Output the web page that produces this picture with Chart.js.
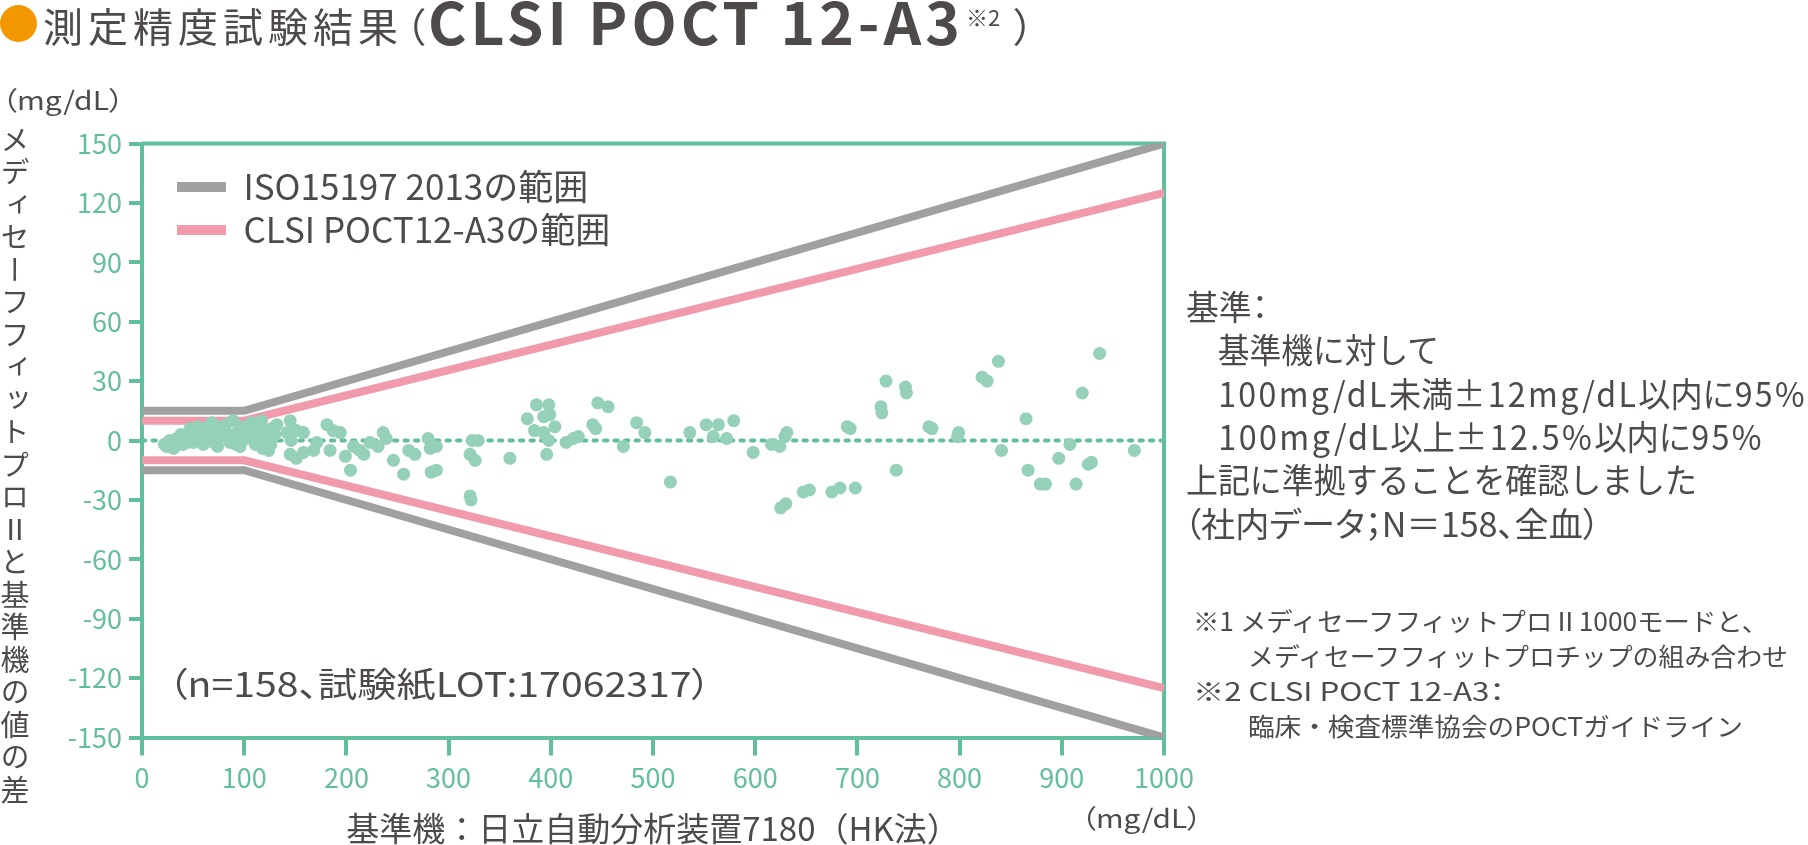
<!DOCTYPE html>
<html lang="ja">
<head>
<meta charset="utf-8">
<title>測定精度試験結果</title>
<script src="https://cdn.jsdelivr.net/npm/chart.js@4.4.1/dist/chart.umd.min.js"></script>
<style>
  html, body { margin: 0; padding: 0; background: #fff; }
  #page { position: relative; width: 1808px; height: 845px; overflow: hidden;
          font-family: "Noto Sans CJK JP", "Noto Sans", sans-serif; color: #4e4a4a; }
  #chart { position: absolute; left: 0; top: 0; }
  .t { position: absolute; top: 0; white-space: nowrap; line-height: 1; transform-origin: 0 0; }
  .palt { font-feature-settings: "palt"; }
  .lat { letter-spacing: 2.5px; }
  .dot { position: absolute; left: 0; top: 5px; width: 37px; height: 37px; border-radius: 50%; background: #f39700; }
  #ytitle { position: absolute; left: 0; top: 125px; writing-mode: vertical-rl; font-size: 29px;
            line-height: 29px; letter-spacing: 3.5px; white-space: nowrap; }
</style>
</head>
<body>
<div id="page">
  <canvas id="chart" width="1808" height="845"></canvas>

  <span class="dot"></span>
  <div class="t" style="left:43px;font-size:40px;letter-spacing:5px" data-b="42">測定精度試験結果</div>
  <div class="t palt" style="left:405px;font-size:40px" data-b="42">（</div>
  <div class="t" style="left:428px;font-size:58px;font-weight:bold;letter-spacing:4px" data-b="45" data-w="536">CLSI POCT 12-A3</div>
  <div class="t" style="left:966px;font-size:22px" data-b="26">※2</div>
  <div class="t palt" style="left:1014px;font-size:40px" data-b="42">）</div>

  <div class="t palt" style="left:2px;font-size:26px" data-b="110" data-w="122">（mg/dL）</div>
  <div id="ytitle">メディセーフフィットプロⅡと基準機の値の差</div>
  <div class="t palt" style="left:1081px;font-size:26px" data-b="828" data-w="121">（mg/dL）</div>
  <div class="t palt" style="left:168px;font-size:34px" data-b="697" data-w="543">（n=158、試験紙LOT:17062317）</div>

  <div class="t palt" style="left:1186px;font-size:34px" data-b="320" data-w="82">基準：</div>
  <div class="t" style="left:1186px;font-size:34px" data-b="363" data-w="253">　基準機に対して</div>
  <div class="t" style="left:1186px;font-size:34px" data-b="407" data-w="621">　<span class="lat">100mg/dL</span>未満<span class="lat">±12mg/dL</span>以内に<span class="lat">95%</span></div>
  <div class="t" style="left:1186px;font-size:34px" data-b="450" data-w="578">　<span class="lat">100mg/dL</span>以上<span class="lat">±12.5%</span>以内に<span class="lat">95%</span></div>
  <div class="t" style="left:1186px;font-size:34px" data-b="493" data-w="511">上記に準拠することを確認しました</div>
  <div class="t palt" style="left:1184px;font-size:34px" data-b="537" data-w="416">（社内データ；N＝158、全血）</div>

  <div class="t" style="left:1193px;font-size:25px" data-b="631" data-w="575">※1 メディセーフフィットプロⅡ1000モードと、</div>
  <div class="t" style="left:1248px;font-size:25px" data-b="666" data-w="540">メディセーフフィットプロチップの組み合わせ</div>
  <div class="t palt" style="left:1193px;font-size:25px" data-b="701" data-w="312">※2 CLSI POCT 12-A3：</div>
  <div class="t" style="left:1248px;font-size:25px" data-b="736" data-w="495">臨床・検査標準協会のPOCTガイドライン</div>
</div>

<script>
// reference analyser values (mg/dL)
const refValues = [
  22, 24, 27, 31, 34, 38, 40, 44, 45, 47, 50, 52, 54, 55, 58, 60, 61, 63, 66, 68,
  70, 72, 73, 74, 76, 80, 82, 85, 86, 89, 92, 93, 96, 98, 99, 102, 104, 107, 108, 110,
  111, 114, 116, 117, 118, 120, 122, 124, 126, 127, 130, 132,
  142, 145, 145, 146, 151, 151, 158, 158, 168, 171, 181, 184,
  187, 194, 199, 204, 207, 213, 217, 223, 231, 236, 239, 246, 256, 261, 267, 280, 282, 283, 288, 288,
  321, 322, 323, 321, 326, 329, 360, 377, 384, 386, 393, 393, 396, 398, 398, 399, 404, 415, 422, 427,
  441, 444, 446, 456,
  471, 484, 492, 517, 536, 552, 559, 564, 572, 579, 598, 616, 624, 625, 629, 630, 631, 647, 653, 675,
  683, 690, 693, 698, 723, 724, 728,
  738, 747, 748, 770, 773, 798, 799, 822, 827, 838, 841, 865, 867, 879, 884, 897, 908, 914, 920, 926,
  929, 937, 971
];
// meter minus reference (mg/dL)
const diffValues = [
  -2, -3, 0, -4, 1, 3, -2, -1, 2, 6, -1, 3, 5, 7, 1, -2, 6, 4, 2, 9,
  -1, 5, 7, -3, 2, 5, 8, 3, -1, 10, -2, 4, -3, 3, 7, 1, 6, 9, 2, 8,
  -2, 4, -1, 10, -4, 5, 3, -5, -2, 6, 3, 8,
  4, 10, -7, 0, 5, -9, 4, -6, -5, -1, 8, -5,
  5, 4, -8, -15, -3, -5, -7, -1, -3, 4, 1, -10, -17, -5, -7, 1, -4, -16, -3, -15,
  -28, -30, 0, -7, -10, 0, -9, 11, 5, 18, 12, 4, -7, 18, 0, 13, 7, -1, 1, 2,
  8, 6, 19, 17,
  -3, 9, 4, -21, 4, 8, 2, 8, 1, 10, -6, -2, -3, -34, 2, -32, 4, -26, -25, -26,
  -24, 7, 6, -24, 17, 14, 30,
  -15, 27, 24, 7, 6, 2, 4, 32, 30, 40, -5, 11, -15, -22, -22, -9, -2, -22, 24, -12,
  -11, 44, -5
];

// acceptance limits
const limitRef = [0, 100, 1000];
const isoUpper = [15, 15, 150];
const isoLower = [-15, -15, -150];
const clsiUpper = [10, 10, 125];
const clsiLower = [-10, -10, -125];
const zeroRef = [0, 1000];
const zeroDiff = [0, 0];

const xTickValues = [0, 100, 200, 300, 400, 500, 600, 700, 800, 900, 1000];
const yTickValues = [-150, -120, -90, -60, -30, 0, 30, 60, 90, 120, 150];

const GREEN = '#62bf9c';
const DOT = '#95d0b9';
const PINK = '#f19aac';
const GRAY = '#a0a0a0';
const INK = '#4e4a4a';

Chart.defaults.font.family = '"Noto Sans CJK JP", "Noto Sans", sans-serif';

const band = (upper, lower) => [
  ...limitRef.map((x, i) => ({ x, y: upper[i] })),
  { x: 1000, y: null },
  ...limitRef.map((x, i) => ({ x, y: lower[i] }))
];

// top and right edges of the plot frame
const frameLines = {
  id: 'frameLines',
  beforeDatasetsDraw(chart) {
    const { ctx, chartArea: { left, top, right, bottom } } = chart;
    ctx.save();
    ctx.strokeStyle = GREEN;
    ctx.lineWidth = 4;
    ctx.beginPath();
    ctx.moveTo(left, top);
    ctx.lineTo(right, top);
    ctx.lineTo(right, bottom);
    ctx.stroke();
    ctx.restore();
  }
};

// the in-plot legend sits a little inside the top-left corner
const legendPlace = {
  id: 'legendPlace',
  afterLayout(chart) {
    chart.legend.left = chart.chartArea.left + 27;
    chart.legend.top = chart.chartArea.top + 18;
  }
};

new Chart(document.getElementById('chart'), {
  type: 'scatter',
  data: {
    datasets: [
      {
        label: 'ISO15197 2013の範囲',
        data: band(isoUpper, isoLower),
        showLine: true,
        borderColor: GRAY,
        borderWidth: 8,
        pointRadius: 0,
        order: 3
      },
      {
        label: 'CLSI POCT12-A3の範囲',
        data: band(clsiUpper, clsiLower),
        showLine: true,
        borderColor: PINK,
        borderWidth: 8,
        pointRadius: 0,
        order: 2
      },
      {
        label: 'zero',
        data: zeroRef.map((x, i) => ({ x, y: zeroDiff[i] })),
        showLine: true,
        borderColor: GREEN,
        borderWidth: 4,
        borderDash: [3.3, 7.2],
        borderCapStyle: 'round',
        pointRadius: 0,
        order: 1
      },
      {
        label: 'n=158',
        data: refValues.map((x, i) => ({ x, y: diffValues[i] })),
        backgroundColor: DOT,
        borderWidth: 0,
        pointRadius: 6.5,
        order: 0
      }
    ]
  },
  options: {
    responsive: false,
    animation: false,
    devicePixelRatio: 1,
    events: [],
    layout: { padding: { left: 0, right: 644, top: 143.5, bottom: 0 } },
    scales: {
      x: {
        type: 'linear',
        min: 0,
        max: 1000,
        afterBuildTicks: (s) => { s.ticks = xTickValues.map(v => ({ value: v })); },
        afterFit: (s) => { s.height = 107.5; s.paddingLeft = 0; s.paddingRight = 0; },
        ticks: { color: GREEN, font: { size: 27 }, padding: 6, maxRotation: 0, autoSkip: false,
                 callback: (v) => String(v) },
        grid: { drawOnChartArea: false, color: GREEN, lineWidth: 4, tickLength: 18 },
        border: { color: GREEN, width: 4 },
        title: {
          display: true,
          text: '基準機：日立自動分析装置7180（HK法）',
          color: INK,
          font: { size: 33, lineHeight: 1 },
          padding: { top: 0, bottom: 0 }
        }
      },
      y: {
        min: -150,
        max: 150,
        afterBuildTicks: (s) => { s.ticks = yTickValues.map(v => ({ value: v })); },
        afterFit: (s) => { s.width = 142; s.paddingTop = 0; s.paddingBottom = 0; },
        ticks: { color: GREEN, font: { size: 27 }, padding: 7, autoSkip: false,
                 callback: (v) => String(v) },
        grid: { drawOnChartArea: false, color: GREEN, lineWidth: 4, tickLength: 13 },
        border: { color: GREEN, width: 4 }
      }
    },
    plugins: {
      tooltip: { enabled: false },
      legend: {
        position: 'chartArea',
        align: 'start',
        labels: {
          boxWidth: 49,
          boxHeight: 10,
          padding: 8,
          color: INK,
          font: { size: 35 },
          generateLabels: (chart) => Chart.defaults.plugins.legend.labels.generateLabels(chart)
            .filter(item => item.datasetIndex < 2)
            .sort((a, b) => a.datasetIndex - b.datasetIndex)
            .map(item => ({ ...item, lineWidth: 0, fillStyle: item.strokeStyle }))
        }
      }
    }
  },
  plugins: [frameLines, legendPlace]
});

// put each text block on its baseline and stretch it to the measured width
document.querySelectorAll('.t').forEach(el => {
  const probe = document.createElement('span');
  probe.style.cssText = 'display:inline-block;width:0;height:0;vertical-align:baseline';
  el.appendChild(probe);
  const box = el.getBoundingClientRect();
  const base = probe.getBoundingClientRect().bottom - box.top;
  el.style.top = (el.dataset.b - base) + 'px';
  if (el.dataset.w) el.style.transform = 'scaleX(' + (el.dataset.w / box.width) + ')';
});
</script>
</body>
</html>
